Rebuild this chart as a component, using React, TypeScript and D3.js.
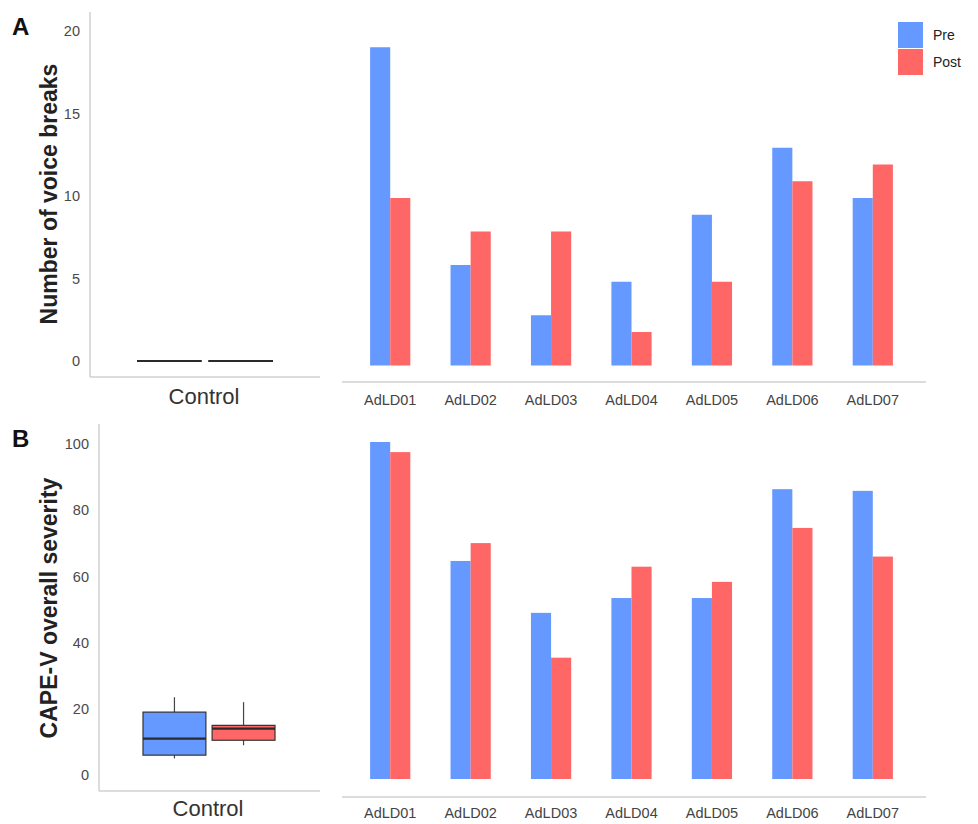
import React, { useEffect, useRef } from 'react';
import * as d3 from 'd3';

const patients = ['AdLD01', 'AdLD02', 'AdLD03', 'AdLD04', 'AdLD05', 'AdLD06', 'AdLD07'];
const phases = ['Pre', 'Post'];

// panel A: number of voice breaks
const breaksPre = [19, 6, 3, 5, 9, 13, 10];
const breaksPost = [10, 8, 8, 2, 5, 11, 12];
const breaksTicks = [0, 5, 10, 15, 20];

// panel B: CAPE-V overall severity
const capePre = [100, 64.7, 49.3, 53.7, 53.7, 86, 85.5];
const capePost = [97, 70, 36, 63, 58.5, 74.5, 66];
const capeTicks = [0, 20, 40, 60, 80, 100];

// control group box stats: [min, q1, median, q3, max]
const controlBreaksPre = [0, 0, 0, 0, 0];
const controlBreaksPost = [0, 0, 0, 0, 0];
const controlCapePre = [5, 6, 11, 19, 23.5];
const controlCapePost = [9, 10.5, 14, 15, 22];

const BLUE = '#6699ff';
const RED = '#ff6666';
const AXIS = '#d0d0d0';
const FONT = '"Liberation Sans", Arial, sans-serif';

function App() {
  const ref = useRef<SVGSVGElement>(null);

  useEffect(() => {
    const svg = d3.select(ref.current);
    svg.selectAll('*').remove();

    const drawPanel = (opt: any) => {
      const g = svg.append('g');

      // panel letter
      g.append('text').attr('x', 12).attr('y', opt.letterY)
        .attr('font-size', 24).attr('font-weight', 'bold').attr('font-family', FONT)
        .attr('fill', '#111').text(opt.letter);

      // y title
      g.append('text')
        .attr('transform', `translate(${opt.titleX}, ${opt.titleY}) rotate(-90)`)
        .attr('text-anchor', 'middle').attr('font-size', 23).attr('font-weight', 'bold')
        .attr('font-family', FONT).attr('fill', '#222').text(opt.title);

      // ---- control boxplot ----
      const yL = d3.scaleLinear().domain(opt.leftDomain).range(opt.leftRange);
      const yAxis = d3.axisLeft(yL).tickValues(opt.ticks).tickSize(0).tickPadding(0);
      const ax = g.append('g').attr('transform', `translate(${opt.tickX}, 0)`).call(yAxis);
      ax.select('.domain').remove();
      ax.selectAll('text').attr('font-size', 14.5).attr('font-family', FONT).attr('fill', '#4a4a4a');

      g.append('line').attr('x1', opt.leftAxisX).attr('x2', opt.leftAxisX)
        .attr('y1', opt.leftTop).attr('y2', opt.leftBase).attr('stroke', AXIS).attr('stroke-width', 1.5);
      g.append('line').attr('x1', opt.leftAxisX).attr('x2', 320)
        .attr('y1', opt.leftBase).attr('y2', opt.leftBase).attr('stroke', AXIS).attr('stroke-width', 1.5);

      const xBox = d3.scaleBand().domain(phases).range(opt.boxRange).paddingInner(0.09);
      const boxes = [
        { phase: 'Pre', s: opt.ctrlPre, color: BLUE },
        { phase: 'Post', s: opt.ctrlPost, color: RED },
      ];
      boxes.forEach((b) => {
        const x0 = xBox(b.phase)!;
        const w = xBox.bandwidth();
        const cx = x0 + w / 2;
        const [mn, q1, md, q3, mx] = b.s;
        if (q3 > q1) {
          g.append('line').attr('x1', cx).attr('x2', cx).attr('y1', yL(mx)).attr('y2', yL(mn))
            .attr('stroke', '#444').attr('stroke-width', 1.2);
          g.append('rect').attr('x', x0).attr('y', yL(q3)).attr('width', w).attr('height', yL(q1) - yL(q3))
            .attr('fill', b.color).attr('stroke', '#333').attr('stroke-width', 1.2);
        }
        g.append('line').attr('x1', x0).attr('x2', x0 + w).attr('y1', yL(md)).attr('y2', yL(md))
          .attr('stroke', '#2a2a2a').attr('stroke-width', 2.2);
      });

      g.append('text').attr('x', opt.controlX).attr('y', opt.controlY).attr('text-anchor', 'middle')
        .attr('font-size', 22).attr('font-family', FONT).attr('fill', '#333').text('Control');

      // ---- grouped bars ----
      const x0 = d3.scaleBand().domain(patients).range([350, 913]).paddingInner(0.5).paddingOuter(0.25);
      const x1 = d3.scaleBand().domain(phases).range([0, x0.bandwidth()]);
      const yR = d3.scaleLinear().domain(opt.rightDomain).range(opt.rightRange);

      const rows = patients.map((p, i) => ({ p, Pre: opt.pre[i], Post: opt.post[i] }));
      const grp = g.selectAll('g.grp').data(rows).enter().append('g')
        .attr('transform', (d: any) => `translate(${x0(d.p)}, 0)`);
      grp.selectAll('rect').data((d: any) => phases.map((k) => ({ k, v: d[k] }))).enter().append('rect')
        .attr('x', (d: any) => x1(d.k)!)
        .attr('y', (d: any) => yR(d.v))
        .attr('width', x1.bandwidth())
        .attr('height', (d: any) => yR(0) - yR(d.v))
        .attr('fill', (d: any) => (d.k === 'Pre' ? BLUE : RED));

      g.append('line').attr('x1', 342).attr('x2', 926).attr('y1', opt.rightAxisY).attr('y2', opt.rightAxisY)
        .attr('stroke', AXIS).attr('stroke-width', 1.5);

      g.selectAll('text.cat').data(patients).enter().append('text')
        .attr('x', (d) => x0(d)! + x0.bandwidth() / 2).attr('y', opt.catY)
        .attr('text-anchor', 'middle').attr('font-size', 14.5).attr('font-family', FONT)
        .attr('fill', '#444').text((d) => d);
    };

    drawPanel({
      letter: 'A', letterY: 35, title: 'Number of voice breaks', titleX: 57, titleY: 194,
      leftDomain: [0, 20], leftRange: [361, 31], ticks: breaksTicks, tickX: 80,
      leftAxisX: 90, leftTop: 12, leftBase: 377, boxRange: [137, 273],
      ctrlPre: controlBreaksPre, ctrlPost: controlBreaksPost, controlX: 204, controlY: 404,
      rightDomain: [0, 20], rightRange: [365.5, 30.5], pre: breaksPre, post: breaksPost,
      rightAxisY: 382, catY: 405,
    });

    drawPanel({
      letter: 'B', letterY: 447, title: 'CAPE-V overall severity', titleX: 57, titleY: 608,
      leftDomain: [0, 100], leftRange: [775, 444], ticks: capeTicks, tickX: 89,
      leftAxisX: 99, leftTop: 424, leftBase: 791, boxRange: [143, 275],
      ctrlPre: controlCapePre, ctrlPost: controlCapePost, controlX: 208, controlY: 816,
      rightDomain: [0, 100], rightRange: [779, 442], pre: capePre, post: capePost,
      rightAxisY: 797, catY: 818,
    });

    // legend
    const leg = svg.append('g');
    phases.forEach((p, i) => {
      leg.append('rect').attr('x', 898).attr('y', 22 + i * 27).attr('width', 25).attr('height', 26)
        .attr('fill', p === 'Pre' ? BLUE : RED);
      leg.append('text').attr('x', 933).attr('y', 40 + i * 27).attr('font-size', 14)
        .attr('font-family', FONT).attr('fill', '#222').text(p);
    });
  }, []);

  return (
    <svg ref={ref} width={978} height={824}
      style={{ position: 'absolute', left: 0, top: 0, background: '#fff' }} />
  );
}

export default App;
